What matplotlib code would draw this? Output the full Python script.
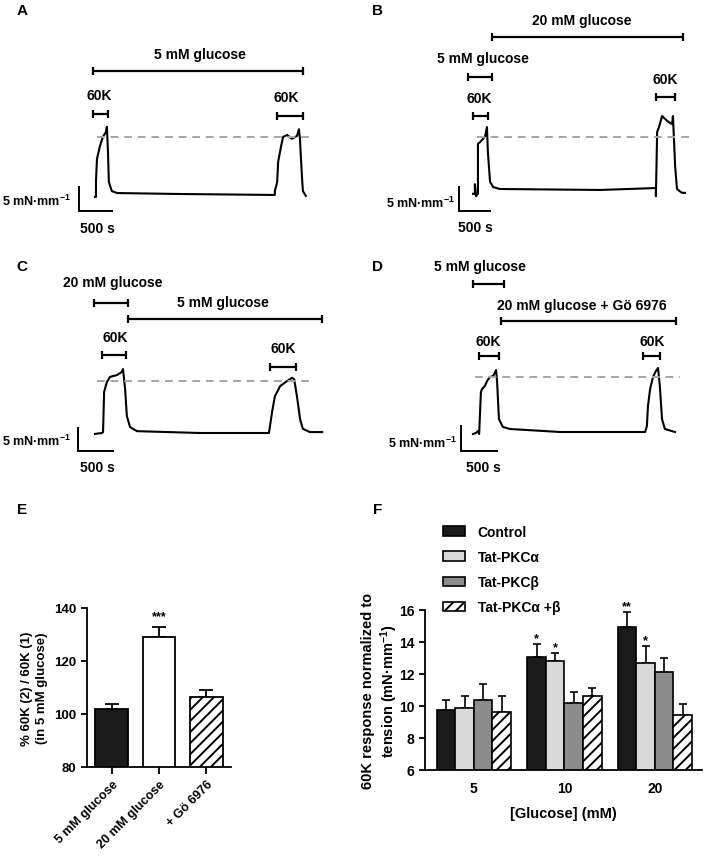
import numpy as np
import matplotlib
matplotlib.use("Agg")
import matplotlib.pyplot as plt

plt.rcParams['font.family'] = ['Liberation Sans', 'DejaVu Sans']
plt.rcParams['font.weight'] = 'bold'
plt.rcParams['axes.labelweight'] = 'bold'
plt.rcParams['mathtext.fontset'] = 'custom'
plt.rcParams['mathtext.rm'] = 'Liberation Sans:bold'
plt.rcParams['mathtext.default'] = 'rm'
plt.rcParams['hatch.linewidth'] = 1.4

W, H = 709, 862

# ---- traces (time in s, tension in mN/mm, baseline = 0) ----
a_t = [0, 15, 15, 30, 75, 120, 165, 180, 195, 210, 255, 335, 1290, 2725, 2725, 2760,
       2775, 2820, 2850, 2910, 2985, 3060, 3090, 3105, 3135, 3150, 3195]
a_y = [-0.6, -0.6, 2.7, 7.3, 10.0, 11.9, 12.9, 14.0, 9.4, 2.5, 0.6, 0.2, 0.0, -0.2, 0.6, 2.5,
       6.7, 10.0, 11.9, 12.3, 11.5, 12.1, 13.5, 11.5, 3.8, 0.6, -0.4]

b_t = [0, 30, 30, 50, 80, 80, 115, 160, 195, 225, 240, 275, 325, 435, 2050, 2950, 2950,
       2970, 3000, 3050, 3130, 3210, 3225, 3260, 3290, 3370, 3420]
b_y = [-1.0, -1.0, 1.0, -1.5, -1.0, 9.4, 9.8, 10.4, 11.0, 12.9, 7.7, 1.5, 0.4, 0.0, -0.2,
       0.2, -1.5, 11.9, 12.9, 15.2, 14.2, 13.5, 15.2, 4.8, 0.0, -0.8, -0.8]

c_t = [0, 100, 115, 130, 170, 215, 315, 385, 400, 430, 455, 500, 600, 1500, 2485, 2530,
       2570, 2645, 2745, 2815, 2845, 2885, 2930, 2970, 3070, 3245]
c_y = [-0.2, 0.0, 0.2, 8.9, 11.1, 12.2, 12.6, 13.3, 13.9, 9.6, 3.7, 1.3, 0.4, 0.0, 0.0, 4.6,
       8.0, 10.2, 11.3, 12.0, 11.7, 8.0, 3.0, 0.9, 0.2, 0.2]

d_t = [0, 40, 70, 85, 110, 125, 165, 195, 235, 280, 320, 335, 360, 415, 515, 1210, 2390,
       2415, 2430, 2460, 2500, 2540, 2570, 2595, 2625, 2665, 2805]
d_y = [-0.4, -0.2, 0.2, -0.4, 8.0, 8.6, 9.2, 10.2, 11.0, 11.2, 12.4, 10.0, 2.6, 1.0, 0.6,
       0.0, 0.0, 1.2, 5.2, 8.6, 11.0, 12.2, 12.8, 9.2, 2.6, 0.6, 0.0]

# solution periods (label, start s, end s)
a_periods = [('5 mM glucose', -30, 3150), ('60K', -30, 195), ('60K', 2760, 3150)]
b_periods = [('20 mM glucose', 305, 3385), ('5 mM glucose', -80, 305), ('60K', 0, 240), ('60K', 2950, 3260)]
c_periods = [('20 mM glucose', -15, 470), ('5 mM glucose', 470, 3245), ('60K', 100, 445), ('60K', 2500, 2870)]
d_periods = [('5 mM glucose', 0, 430), ('20 mM glucose + Gö 6976', 390, 2820), ('60K', 85, 360), ('60K', 2360, 2595)]

# dashed reference level (mN/mm) and its time span
a_ref = (11.9, 30, 3290)
b_ref = (10.8, 65, 3550)
c_ref = (11.3, 30, 3100)
d_ref = (11.0, 30, 2875)

# ---- panel E ----
e_labels = ['5 mM glucose', '20 mM glucose', '+ Gö 6976']
e_vals = [101.7, 129.0, 106.6]
e_err = [2.2, 3.7, 2.3]
e_stars = ['', '***', '']

# ---- panel F ----
f_groups = ['5', '10', '20']
f_names = ['Control', 'Tat-PKCα', 'Tat-PKCβ', 'Tat-PKCα +β']
f_control = [9.75, 13.05, 14.95]
f_control_err = [0.6, 0.85, 0.95]
f_alpha = [9.9, 12.8, 12.7]
f_alpha_err = [0.7, 0.5, 1.05]
f_beta = [10.35, 10.2, 12.1]
f_beta_err = [1.05, 0.7, 0.9]
f_ab = [9.65, 10.6, 9.45]
f_ab_err = [0.95, 0.5, 0.65]
f_control_stars = ['', '*', '**']
f_alpha_stars = ['', '*', '*']

fig = plt.figure(figsize=(W / 100, H / 100), dpi=100)


def ftext(px, py, s, **kw):
    kw.setdefault('ha', 'center')
    kw.setdefault('va', 'center')
    kw.setdefault('fontsize', 10)
    fig.text(px / W, 1 - py / H, s, **kw)


def trace_panel(box, ox, oy, hs, vs, t, y, periods, bar_py, txt_py, ref,
                sb, sb_lab, sb_txt):
    bx0, by0, bx1, by1 = box
    ax = fig.add_axes([bx0 / W, 1 - by1 / H, (bx1 - bx0) / W, (by1 - by0) / H])
    spp = 500.0 / hs
    mpp = 5.0 / vs
    ax.set_xlim((bx0 - ox) * spp, (bx1 - ox) * spp)
    ax.set_ylim((oy - by1) * mpp, (oy - by0) * mpp)
    ax.axis('off')
    Y = lambda py: (oy - py) * mpp
    T = lambda px: (px - ox) * spp
    ax.plot(t, y, color='k', lw=1.5, solid_joinstyle='round')
    lvl, r0, r1 = ref
    ax.plot([r0, r1], [lvl, lvl], color='#a5a5a5', lw=1.4, dashes=(4, 3))
    for (lab, t0, t1), bpy, (tx, ty) in zip(periods, bar_py, txt_py):
        ax.plot([t0, t1], [Y(bpy)] * 2, color='k', lw=1.6, solid_capstyle='butt')
        for tt in (t0, t1):
            ax.plot([tt, tt], [Y(bpy - 4), Y(bpy + 4)], color='k', lw=1.6,
                    solid_capstyle='butt')
        ftext(tx, ty, lab)
    cx, cy = sb
    ax.plot([T(cx), T(cx), T(cx) + 500], [Y(cy) + 5, Y(cy), Y(cy)],
            color='k', lw=1.4, solid_joinstyle='miter')
    ftext(sb_lab[0], sb_lab[1], '5 mN·mm$^{-1}$', ha='right', fontsize=9)
    ftext(sb_txt[0], sb_txt[1], '500 s')
    return ax


trace_panel((0, 0, 355, 262), 95, 195, 33, 24, a_t, a_y, a_periods,
            [72, 115, 117], [(200, 55), (99, 96), (286, 98)], a_ref,
            (79, 212), (71, 201), (97, 229))
trace_panel((355, 0, 709, 262), 473, 190, 31, 24, b_t, b_y, b_periods,
            [38, 78, 117, 98], [(582, 21), (483, 59), (479, 99), (665, 80)], b_ref,
            (459, 212), (455, 203), (475, 228))
trace_panel((0, 262, 355, 500), 95, 434, 35, 23, c_t, c_y, c_periods,
            [304, 320, 356, 368], [(113, 283), (223, 303), (115, 338), (283, 349)], c_ref,
            (78, 452), (71, 441), (97, 468))
trace_panel((355, 262, 709, 500), 473, 433, 36, 25, d_t, d_y, d_periods,
            [285, 322, 357, 357], [(480, 267), (582, 306), (488, 342), (652, 342)], d_ref,
            (461, 452), (457, 443), (483, 468))

for lab, px, py in [('A', 22, 11), ('B', 378, 11), ('C', 22, 267), ('D', 378, 267),
                    ('E', 22, 510), ('F', 378, 510)]:
    ftext(px, py, lab, fontsize=11)

# ---- E ----
axE = fig.add_axes([87 / W, 1 - 768 / H, 144 / W, 159 / H])
xe = np.arange(len(e_vals))
axE.bar(xe, e_vals, width=0.7, color=['#1a1a1a', 'white', 'white'], edgecolor='k',
        linewidth=1.3, hatch=['', '', '///'], zorder=2)
axE.errorbar(xe, e_vals, yerr=[np.zeros(3), e_err], fmt='none', ecolor='k',
             elinewidth=1.3, capsize=5, capthick=1.3, zorder=1)
for x, v, e, s in zip(xe, e_vals, e_err, e_stars):
    if s:
        axE.annotate(s, (x, v + e), xytext=(0, 6), textcoords='offset points',
                     ha='center', va='baseline', fontsize=9)
axE.set_xlim(-0.53, 2.53)
axE.set_ylim(80, 140)
axE.set_yticks([80, 100, 120, 140])
axE.set_xticks(xe)
axE.set_xticklabels(e_labels, rotation=45, ha='right', rotation_mode='anchor', fontsize=9)
axE.tick_params(axis='y', labelsize=9.5, length=4, width=1.3)
axE.tick_params(axis='x', length=5, width=1.3, pad=3)
for sp in ['top', 'right']:
    axE.spines[sp].set_visible(False)
for sp in ['left', 'bottom']:
    axE.spines[sp].set_linewidth(1.3)
axE.set_ylabel('% 60K (2) / 60K (1)\n(in 5 mM glucose)', fontsize=9.5, linespacing=1.3)
axE.yaxis.set_label_coords(-0.27, 0.5)

# ---- F ----
axF = fig.add_axes([425 / W, 1 - 771 / H, 277 / W, 160 / H])
xf = np.arange(len(f_groups))
w = 0.205
series = [(f_control, f_control_err, '#1a1a1a', ''),
          (f_alpha, f_alpha_err, '#d9d9d9', ''),
          (f_beta, f_beta_err, '#8c8c8c', ''),
          (f_ab, f_ab_err, 'white', '///')]
handles = []
for i, (vals, errs, col, hat) in enumerate(series):
    xs = xf + (i - 1.5) * w
    b = axF.bar(xs, vals, width=w, color=col, edgecolor='k', linewidth=1.2,
                hatch=hat, zorder=2, label=f_names[i])
    handles.append(b)
    axF.errorbar(xs, vals, yerr=[np.zeros(3), errs], fmt='none', ecolor='k',
                 elinewidth=1.2, capsize=3, capthick=1.2, zorder=1)
for i, stars in [(0, f_control_stars), (1, f_alpha_stars)]:
    vals, errs = series[i][0], series[i][1]
    for x, v, e, s in zip(xf + (i - 1.5) * w, vals, errs, stars):
        if s:
            axF.annotate(s, (x, v + e), xytext=(0, 2), textcoords='offset points',
                         ha='center', va='baseline', fontsize=9)
axF.set_xlim(-0.54, 2.52)
axF.set_ylim(6, 16)
axF.set_yticks([6, 8, 10, 12, 14, 16])
axF.set_xticks(xf)
axF.set_xticklabels(f_groups)
axF.tick_params(axis='y', labelsize=10, length=4, width=1.3)
axF.tick_params(axis='x', labelsize=10, length=0, pad=8)
for sp in ['top', 'right']:
    axF.spines[sp].set_visible(False)
for sp in ['left', 'bottom']:
    axF.spines[sp].set_linewidth(1.3)
axF.set_xlabel('[Glucose] (mM)', fontsize=10.5, labelpad=8)
axF.set_ylabel('60K response normalized to\ntension (mN·mm$^{-1}$)', fontsize=10.5,
               linespacing=1.2)
axF.yaxis.set_label_coords(-0.09, 0.5)
axF.legend(handles=handles, loc='upper left', bbox_to_anchor=(443 / W, 1 - 526 / H),
           bbox_transform=fig.transFigure, frameon=False, fontsize=10,
           handlelength=1.6, handleheight=0.7, handletextpad=0.9,
           labelspacing=0.8, borderpad=0, borderaxespad=0)

fig.savefig('out.png', dpi=100)
